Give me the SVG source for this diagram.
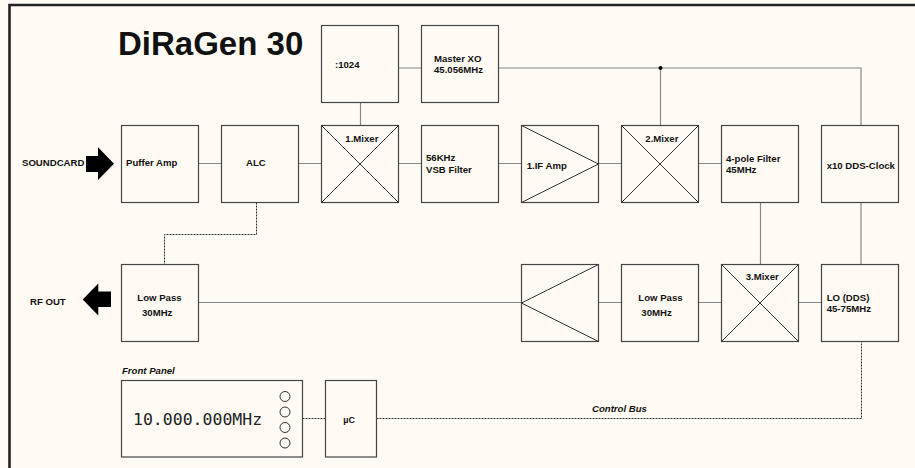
<svg xmlns="http://www.w3.org/2000/svg" width="915" height="468" viewBox="0 0 915 468">
<style>
.box{fill:none;stroke:#444;stroke-width:1.2}
.sym{fill:none;stroke:#333;stroke-width:1}
.con{fill:none;stroke:#888;stroke-width:1.2}
.dot{fill:none;stroke:#333;stroke-width:1;stroke-dasharray:2,1}
text{font-family:"Liberation Sans",Arial,sans-serif;font-weight:bold;font-size:9.6px;fill:#111}
.it{font-style:italic}
</style>
<rect x="0" y="0" width="915" height="468" fill="#fffbf4"/>
<path d="M9.5,468 V5 H915" fill="none" stroke="#222" stroke-width="2.6"/>
<text x="118" y="55" style="font-size:33px">DiRaGen 30</text>
<g id="connectors">
<path class="con" d="M399,68 H422 M499,68 H861 V125.5 M660.5,68 V125.5 M360.5,102 V125.5"/>
<path class="con" d="M198.5,163.5 H221.5 M298.5,163.5 H321.5 M398.5,163.5 H421.5 M498.5,163.5 H521.5 M598.5,163.5 H621.5 M698.5,163.5 H721.5"/>
<path class="con" d="M760.5,202.5 V264.5 M861,202.5 V264.5"/>
<path class="con" d="M198.5,302.5 H521.5 M598.5,302.5 H621.5 M698.5,302.5 H721.5 M798.5,302.5 H821.5"/>
<circle cx="660.5" cy="68" r="2" fill="#000"/>
<path class="dot" d="M256.5,202.5 V234.5 H164.5 V264.5"/>
<path class="dot" d="M302.5,418.5 H325.5 M376.5,418.5 H861.5 V341.5"/>
<text x="592" y="412" class="it">Control Bus</text>
</g>
<g id="soundcard">
<text x="22" y="165.5">SOUNDCARD</text>
<path d="M86,156 H98 V147.3 L114,163.7 L98,180 V172 H86 Z" fill="#000"/>
</g>
<g id="rfout">
<text x="30" y="305">RF OUT</text>
<path d="M82.7,299.5 L98.3,283.5 V291.5 H111 V307 H98.3 V315.5 Z" fill="#000"/>
</g>
<g id="div1024"><rect class="box" x="321.5" y="25.5" width="77" height="77"/><text x="335" y="68.3">:1024</text></g>
<g id="masterxo"><rect class="box" x="421.5" y="25.5" width="77" height="77"/><text x="434" y="61.7">Master XO</text><text x="434" y="73.3">45.056MHz</text></g>
<g id="pufferamp"><rect class="box" x="121.5" y="125.5" width="77" height="77"/><text x="126" y="165.5">Puffer Amp</text></g>
<g id="alc"><rect class="box" x="221.5" y="125.5" width="77" height="77"/><text x="246" y="165.5">ALC</text></g>
<g id="mixer1"><rect class="box" x="321.5" y="125.5" width="77" height="77"/><path class="sym" d="M321.5,125.5 L398.5,202.5 M398.5,125.5 L321.5,202.5"/><text x="345.3" y="142.3">1.Mixer</text></g>
<g id="vsbfilter"><rect class="box" x="421.5" y="125.5" width="77" height="77"/><text x="426" y="161">56KHz</text><text x="426" y="172.7">VSB Filter</text></g>
<g id="ifamp1"><rect class="box" x="521.5" y="125.5" width="77" height="77"/><path class="sym" d="M521.5,125.5 L598.5,164 L521.5,202.5"/><text x="526.7" y="168.7">1.IF Amp</text></g>
<g id="mixer2"><rect class="box" x="621.5" y="125.5" width="77" height="77"/><path class="sym" d="M621.5,125.5 L698.5,202.5 M698.5,125.5 L621.5,202.5"/><text x="645.3" y="142.3">2.Mixer</text></g>
<g id="fourpole"><rect class="box" x="721.5" y="125.5" width="77" height="77"/><text x="726" y="161.7">4-pole Filter</text><text x="726" y="173.3">45MHz</text></g>
<g id="ddsclock"><rect class="box" x="821.5" y="125.5" width="77" height="77"/><text x="826.7" y="168.7">x10 DDS-Clock</text></g>
<g id="lowpass1"><rect class="box" x="121.5" y="264.5" width="77" height="77"/><text x="137.3" y="300.7">Low Pass</text><text x="142" y="315.7">30MHz</text></g>
<g id="amp2"><rect class="box" x="521.5" y="264.5" width="77" height="77"/><path class="sym" d="M598.5,264.5 L521.5,303 L598.5,341.5"/></g>
<g id="lowpass2"><rect class="box" x="621.5" y="264.5" width="77" height="77"/><text x="638.3" y="300.7">Low Pass</text><text x="641.3" y="315.7">30MHz</text></g>
<g id="mixer3"><rect class="box" x="721.5" y="264.5" width="77" height="77"/><path class="sym" d="M721.5,264.5 L798.5,341.5 M798.5,264.5 L721.5,341.5"/><text x="745.7" y="280">3.Mixer</text></g>
<g id="lodds"><rect class="box" x="821.5" y="264.5" width="77" height="77"/><text x="826.7" y="300.7">LO (DDS)</text><text x="826.7" y="312.3">45-75MHz</text></g>
<g id="frontpanel">
<text x="122" y="374" class="it">Front Panel</text>
<rect class="box" x="121.5" y="380.5" width="181" height="76.5"/>
<text x="133" y="425" style="font-family:'DejaVu Sans Mono',monospace;font-weight:normal;font-size:16.5px;fill:#222">10.000.000MHz</text>
<g class="sym"><circle cx="285" cy="396.5" r="5"/><circle cx="285" cy="412" r="5"/><circle cx="285" cy="427.5" r="5"/><circle cx="285" cy="443" r="5"/></g>
</g>
<g id="uc"><rect class="box" x="325.5" y="380.5" width="51" height="76.5"/><text x="343.3" y="422.7" style="font-size:9px">µC</text></g>
</svg>
